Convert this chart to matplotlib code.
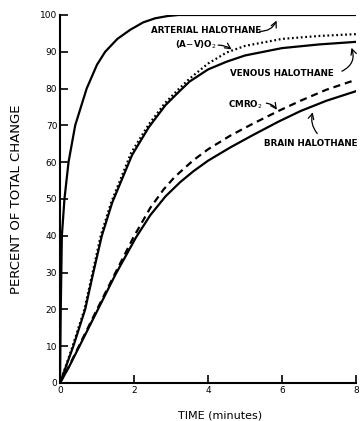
import matplotlib.pyplot as plt
import numpy as np

# values (time in minutes, percent of total change)
t_art = [0, 0.02, 0.05, 0.12, 0.23, 0.41, 0.72, 1.0, 1.22, 1.55, 1.9, 2.25, 2.57, 2.9, 3.2, 8]
y_art = [0, 20, 40, 50, 60, 70, 80, 86.5, 90, 93.5, 96, 98, 99.1, 99.7, 100, 100]

t_ven = [0, 0.18, 0.36, 0.68, 0.9, 1.13, 1.41, 1.95, 2.4, 2.85, 3.2, 3.5, 4.0, 4.5, 5.0, 6.0, 7.0, 8.0]
y_ven = [0, 5, 10, 20, 30, 40, 49, 62, 69.5, 75.5, 79, 81.9, 85.2, 87.3, 89, 91, 92, 92.7]

t_avo2 = [0, 0.17, 0.34, 0.66, 0.88, 1.1, 1.38, 1.92, 2.38, 2.83, 3.2, 3.5, 4.0, 4.5, 5.0, 6.0, 7.0, 8.0]
y_avo2 = [0, 5, 10, 20, 30, 40, 49, 62.5, 70, 76, 79.8, 82.7, 86.8, 89.8, 91.6, 93.5, 94.3, 94.8]

t_brain = [0, 0.25, 0.5, 1.0, 1.5, 2.05, 2.44, 2.85, 3.25, 3.6, 4.0, 4.6, 5.2, 5.9, 6.5, 7.2, 8.0]
y_brain = [0, 4.5, 9.5, 19.5, 29.5, 39.5, 45.6, 50.7, 54.6, 57.5, 60.4, 64, 67.3, 71, 73.9, 76.7, 79.3]

t_cmro2 = [0, 0.25, 0.5, 1.0, 1.5, 1.98, 2.44, 2.8, 3.1, 3.6, 4.0, 4.6, 5.2, 5.9, 6.5, 7.2, 8.0]
y_cmro2 = [0, 4.7, 9.8, 20, 30, 39.5, 47.6, 52.6, 56, 60.5, 63.5, 67.2, 70.4, 73.9, 76.7, 79.7, 82.4]

x_ticks = [0, 2, 4, 6, 8]
y_ticks = [0, 10, 20, 30, 40, 50, 60, 70, 80, 90, 100]

fig = plt.figure(figsize=(3.6, 4.21), dpi=100)
ax = fig.add_axes([0.1667, 0.0903, 0.8223, 0.8741])

ax.plot(t_art, y_art, color='black', lw=1.6)
ax.plot(t_ven, y_ven, color='black', lw=1.6)
ax.plot(t_avo2, y_avo2, color='black', lw=1.6, linestyle=(0, (0.8, 1.2)))
ax.plot(t_brain, y_brain, color='black', lw=1.6)
ax.plot(t_cmro2, y_cmro2, color='black', lw=1.6, linestyle=(0, (3.2, 2.2)))

ax.set_xlim(0, 8)
ax.set_ylim(0, 100)
ax.set_xticks(x_ticks)
ax.set_yticks(y_ticks)
ax.spines['top'].set_visible(False)
ax.spines['right'].set_visible(False)
ax.spines['left'].set_linewidth(1.5)
ax.spines['bottom'].set_linewidth(1.5)
ax.tick_params(direction='in', length=6, width=1.2, labelsize=6.5, pad=2)

ax.set_xlabel('TIME (minutes)', fontsize=8)
ax.xaxis.set_label_coords(0.54, -0.075)
ax.set_ylabel('PERCENT OF TOTAL CHANGE', fontsize=9.5, labelpad=12)

lab = dict(fontsize=6.3, fontweight='bold', ha='left', va='center')
arr = dict(arrowstyle='->', color='black', lw=0.9)

ax.text(2.47, 95.9, 'ARTERIAL HALOTHANE', **lab)
ax.annotate('', xy=(5.88, 99.2), xytext=(5.32, 95.6),
            arrowprops=dict(connectionstyle='arc3,rad=0.4', **arr))
ax.text(3.1, 91.8, '(A$-$V)O$_2$', **lab)
ax.annotate('', xy=(4.7, 90.2), xytext=(4.2, 91.8),
            arrowprops=dict(connectionstyle='arc3,rad=-0.2', **arr))
ax.text(4.6, 84.2, 'VENOUS HALOTHANE', **lab)
ax.annotate('', xy=(7.85, 91.8), xytext=(7.55, 84.4),
            arrowprops=dict(connectionstyle='arc3,rad=0.5', **arr))
ax.text(4.55, 75.5, 'CMRO$_2$', **lab)
ax.annotate('', xy=(5.9, 73.6), xytext=(5.5, 76.1),
            arrowprops=dict(connectionstyle='arc3,rad=-0.3', **arr))
ax.text(5.5, 65.2, 'BRAIN HALOTHANE', **lab)
ax.annotate('', xy=(6.85, 74.3), xytext=(7.0, 67.2),
            arrowprops=dict(connectionstyle='arc3,rad=-0.3', **arr))

fig.savefig('out.png', dpi=100)
